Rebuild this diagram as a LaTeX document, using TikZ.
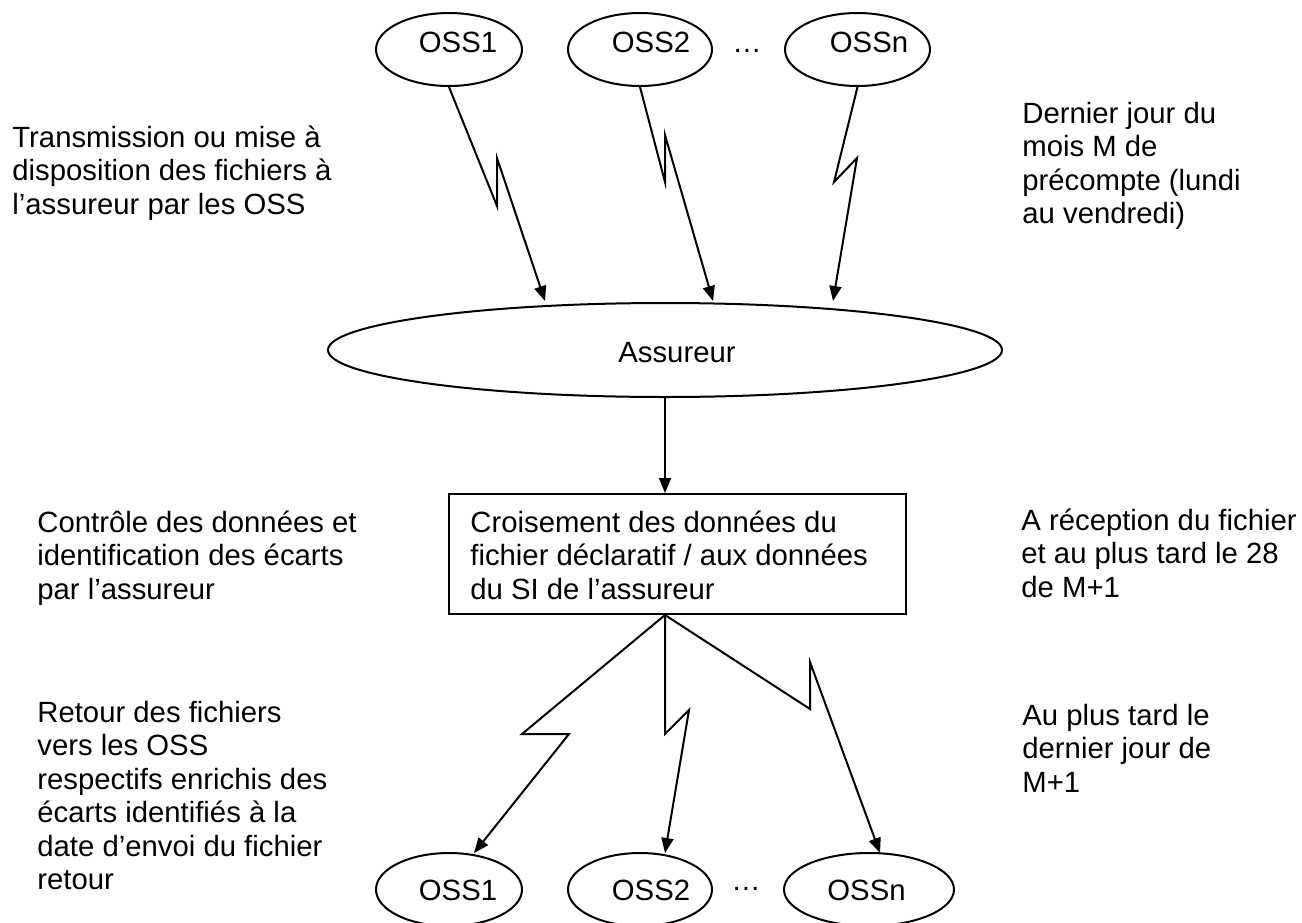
\documentclass[tikz,border=0pt]{standalone}
\usepackage{fontspec}
\setmainfont{Liberation Sans}
\usetikzlibrary{shapes.geometric,arrows.meta}
\tikzset{
  txtfont/.style={font=\fontsize{14.65pt}{16.75pt}\selectfont},
  ossell/.style={draw, line width=1pt, ellipse, inner sep=0pt, minimum height=36.5pt},
  lbl/.style={txtfont, inner sep=0pt, anchor=base},
  para/.style={txtfont, inner sep=0pt, anchor=base west},
  bolt/.style={line width=1pt, -{Triangle[length=7.5pt,width=6pt]}},
  boxstyle/.style={draw, line width=1pt, rectangle, inner sep=0pt, minimum width=228.5pt, minimum height=60pt}
}
\begin{document}
\begin{tikzpicture}[x=0.5pt,y=-0.5pt]
\useasboundingbox (0,0) rectangle (1302,922);
% top OSS ellipses
\node[ossell, minimum width=73pt] (t1) at (449,49.5) {};
\node[ossell, minimum width=72pt] (t2) at (640,49.5) {};
\node[ossell, minimum width=72.5pt] (tn) at (857.5,49.5) {};
\node[lbl] (t1l) at (458,52) {OSS1};
\node[lbl] (t2l) at (651,52) {OSS2};
\node[lbl] (tnl) at (869,52) {OSSn};
\node[lbl] (tdots) at (747,52) {…};
% assureur
\node[draw, line width=1pt, ellipse, inner sep=0pt, minimum width=337pt, minimum height=47pt] (as) at (665,350) {};
\node[lbl] (asl) at (677,362) {Assureur};
% box
\node[boxstyle] (box) at (677.5,554) {};
\node[para] (boxl) at (470,532) {\begin{tabular}[t]{@{}l@{}}Croisement des données du\\fichier déclaratif / aux données\\du SI de l’assureur\end{tabular}};
% bottom OSS ellipses
\node[ossell, minimum width=73pt] (b1) at (449,889.5) {};
\node[ossell, minimum width=72pt] (b2) at (640,889.5) {};
\node[ossell, minimum width=85pt] (bn) at (869,889.5) {};
\node[lbl] (b1l) at (458,900) {OSS1};
\node[lbl] (b2l) at (651,900) {OSS2};
\node[lbl] (bnl) at (866.5,900) {OSSn};
\node[lbl] (bdots) at (746,890) {…};
% side texts
\node[para] (tl) at (12,147) {\begin{tabular}[t]{@{}l@{}}Transmission ou mise à\\disposition des fichiers à\\l’assureur par les OSS\end{tabular}};
\node[para] (tr) at (1022,123) {\begin{tabular}[t]{@{}l@{}}Dernier jour du\\mois M de\\précompte (lundi\\au vendredi)\end{tabular}};
\node[para] (ml) at (37,532) {\begin{tabular}[t]{@{}l@{}}Contrôle des données et\\identification des écarts\\par l’assureur\end{tabular}};
\node[para] (mr) at (1021,530) {\begin{tabular}[t]{@{}l@{}}A réception du fichier\\et au plus tard le 28\\de M+1\end{tabular}};
\node[para] (bl) at (37,722) {\begin{tabular}[t]{@{}l@{}}Retour des fichiers\\vers les OSS\\respectifs enrichis des\\écarts identifiés à la\\date d’envoi du fichier\\retour\end{tabular}};
\node[para] (br) at (1022,725) {\begin{tabular}[t]{@{}l@{}}Au plus tard le\\dernier jour de\\M+1\end{tabular}};
% arrow end points
\coordinate (a1) at (545,301);
\coordinate (a2) at (713,301);
\coordinate (an) at (833,301);
\coordinate (bs) at (as.south |- box.south);
\coordinate (e1) at (474,853);
\coordinate (e2) at (665,853);
\coordinate (en) at (880,853);
% top lightning connectors
\draw[bolt] (t1.south) -- (497,206) -- (497,158) -- (a1);
\draw[bolt] (t2.south) -- (665,182) -- (665,135) -- (a2);
\draw[bolt] (tn.south) -- (834,182) -- (857,158) -- (an);
% middle arrow
\draw[bolt] (as.south) -- (as.south |- box.north);
% bottom lightning connectors
\draw[bolt] (bs) -- (522,734) -- (569,734) -- (e1);
\draw[bolt] (bs) -- (665,734) -- (689,710) -- (e2);
\draw[bolt] (bs) -- (810,709) -- (810,662) -- (en);
\end{tikzpicture}
\end{document}
